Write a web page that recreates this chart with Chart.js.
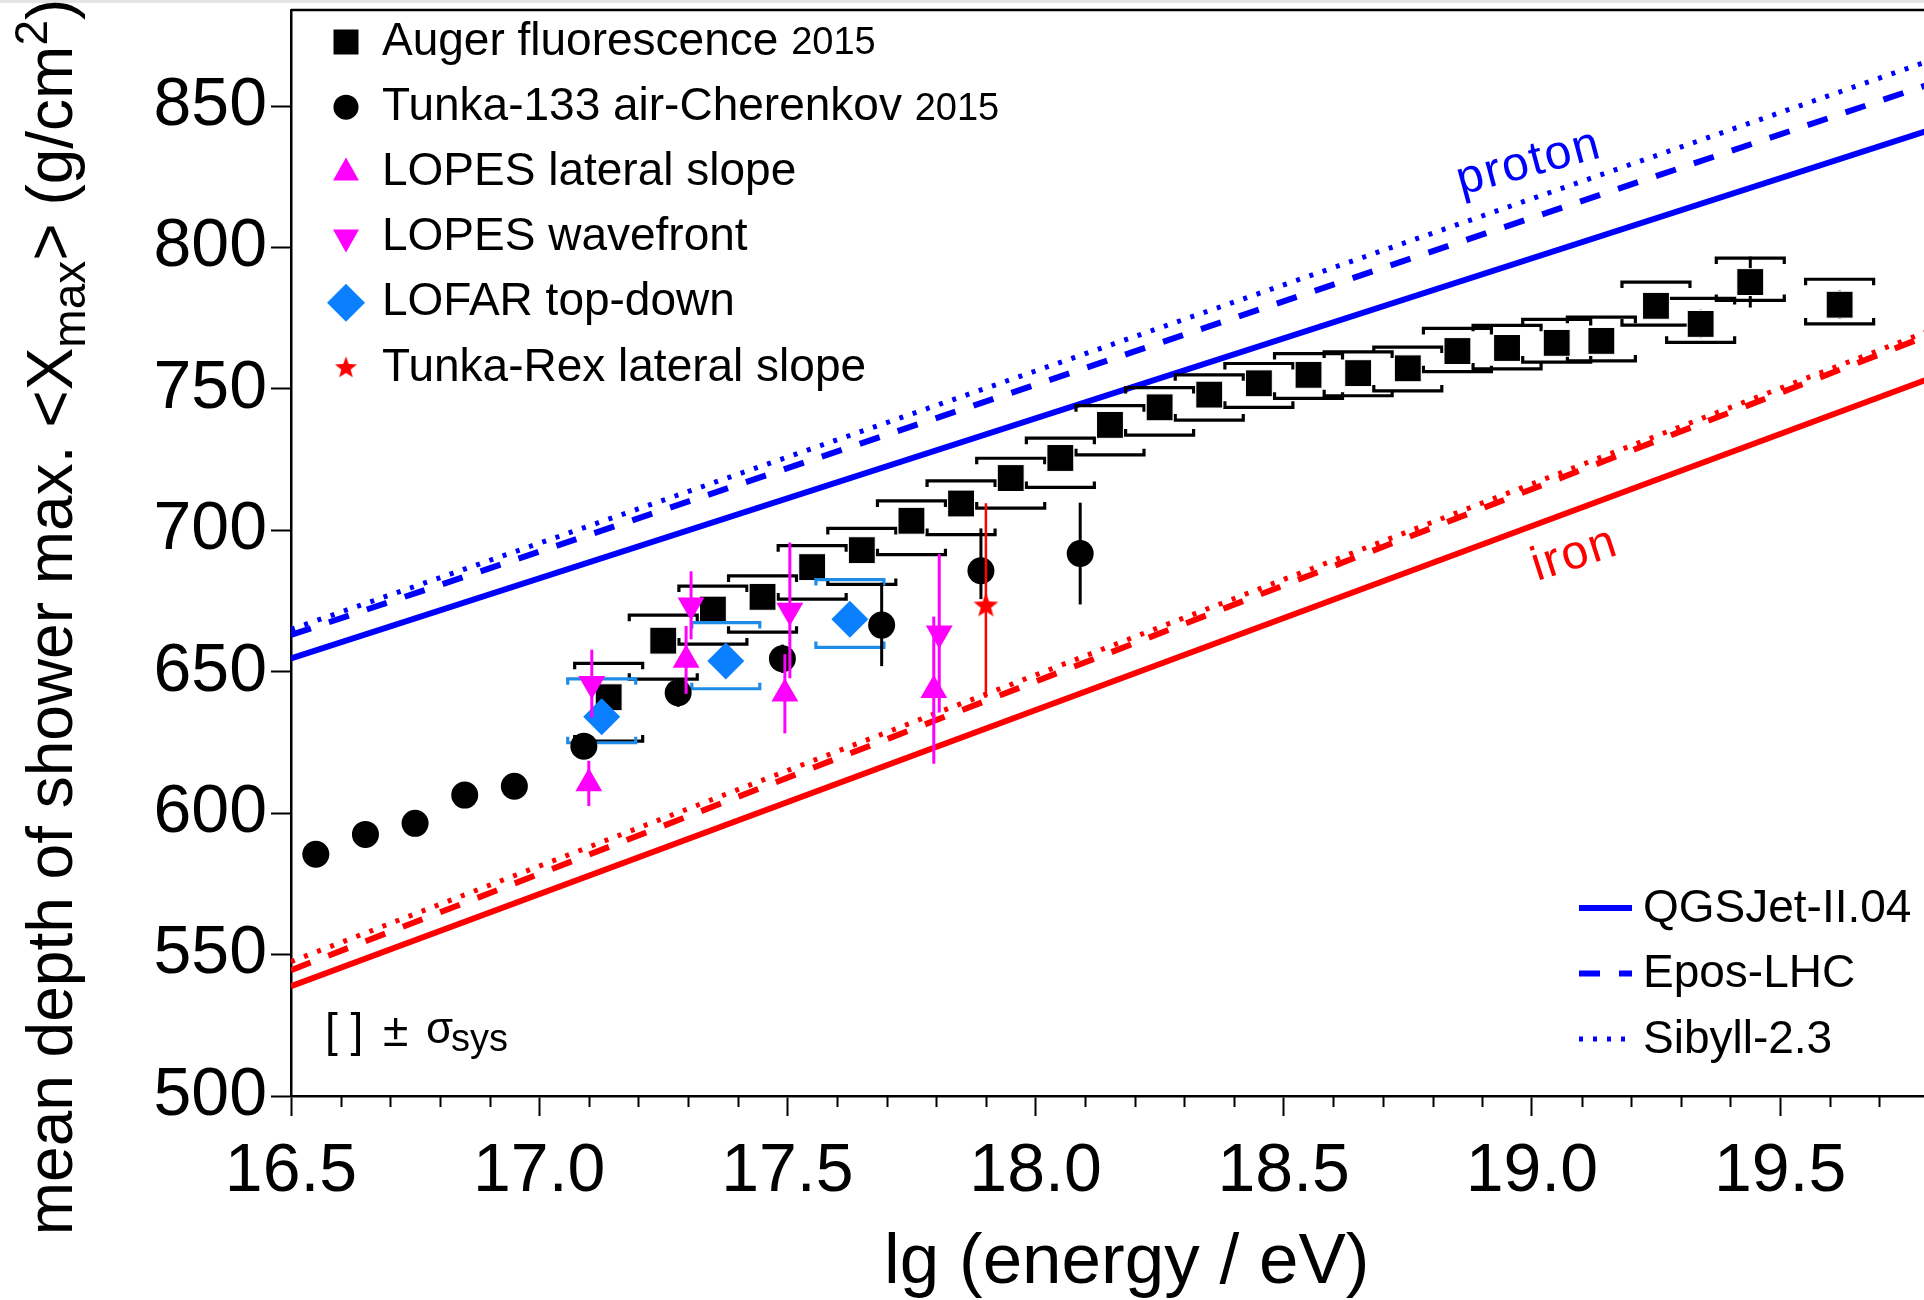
<!DOCTYPE html>
<html>
<head>
<meta charset="utf-8">
<title>Mean depth of shower maximum vs energy</title>
<script src="https://cdn.jsdelivr.net/npm/chart.js@4.4.1/dist/chart.umd.min.js"></script>
<style>
  html, body { margin: 0; padding: 0; background: #fff; }
  #wrap { width: 1924px; height: 1300px; }
</style>
</head>
<body>
<div id="wrap"><canvas id="xmax" width="1924" height="1300"></canvas></div>
<script>
// ---- measurements: lg(E/eV) and <Xmax> in g/cm^2 ----
const augerLg = [17.14, 17.25, 17.35, 17.45, 17.55, 17.65, 17.75, 17.85, 17.95, 18.05, 18.15, 18.25, 18.35,
                 18.45, 18.55, 18.65, 18.75, 18.85, 18.95, 19.05, 19.14, 19.25, 19.34, 19.44, 19.62];
const augerXmax = [641, 661, 672, 676.5, 687, 693, 703.4, 709.5, 718.5, 725.6, 737.3, 743.5, 748,
                   752, 755, 755.6, 757.3, 763.4, 764.5, 766.3, 767, 779.4, 773, 787.8, 779.8];
const augerStat = [3, 3, 2, 2, 2, 2, 2, 2, 2, 2, 2, 2, 2, 2, 2, 2, 3, 3, 3, 3, 4, 4, 5, 9, 5];
const augerSysUp = [12, 9, 8.3, 7.4, 7.6, 7.7, 7, 8, 7, 7, 6.8, 7, 7, 7, 7.5, 7.5, 7.5, 8, 8, 8.3, 8.4, 8.4, 9, 8.5, 9];
const augerSysDown = [15.5, 13.6, 12.2, 12.5, 11.3, 12.1, 12, 11, 10.6, 10.4, 10.6, 9.8, 9, 8.5, 8.3, 8, 8,
                      7.3, 7.4, 6.8, 7.1, 6.8, 6.5, 6.5, 6.8];

const tunkaLg = [16.55, 16.65, 16.75, 16.85, 16.95, 17.09, 17.28, 17.49, 17.69, 17.89, 18.09];
const tunkaXmax = [585.5, 592.5, 596.4, 606.4, 609.5, 623.7, 642.6, 654.6, 666.5, 685.7, 691.8];
const tunkaErrUp = [2, 2, 2, 2, 2, 4, 5, 5, 15, 15, 18];
const tunkaErrDown = [2, 2, 2, 2, 2, 4, 5, 5, 14.5, 10, 18];

const lopesLatLg = [17.10, 17.296, 17.495, 17.795];
const lopesLatXmax = [610.5, 654.2, 642.2, 643.5];
const lopesLatErr = [8, 12, 14, 26];

const lopesWfLg = [17.106, 17.306, 17.505, 17.806];
const lopesWfXmax = [645.8, 673.5, 671.7, 663.6];
const lopesWfErr = [12, 12, 24, 28];

const lofarLg = [17.126, 17.376, 17.626];
const lofarXmax = [634.1, 653.8, 668.6];
const lofarSysUp = [13.4, 13.6, 14];
const lofarSysDown = [9.2, 9.8, 10];

const rexLg = [17.9];
const rexXmax = [673.3];
const rexErrUp = [36.3];
const rexErrDown = [32.5];

// ---- hadronic model predictions (straight lines in lg E) ----
const modelLg = [16.5, 19.8];
const qgsProton = [654.7, 841.5];
const eposProton = [663, 857.7];
const sibyllProton = [665, 866];
const qgsIron = [538.8, 753.6];
const eposIron = [544.5, 769];
const sibyllIron = [547.5, 770.5];

// ---- axis ----
const xMin = 16.5, xMax = 19.79;
const yMin = 500, yMax = 884;

const FONT = '"Liberation Sans", Arial, Helvetica, sans-serif';
const BLUE = '#0000ff', RED = '#ff0000', MAGENTA = '#ff00ff';
const LOFAR_BLUE = '#0a80ff', LOFAR_SYS = '#1e8ce6';
const EPOS_DASH = [21, 19], SIBYLL_DOT = [4, 10];

function pts(xs, ys) { return xs.map((x, i) => ({ x: x, y: ys[i] })); }

function makeStar(size, color) {
  const c = document.createElement('canvas');
  c.width = size; c.height = size;
  const g = c.getContext('2d');
  const R = size / 2 - 0.5, r = R * 0.42;
  g.beginPath();
  for (let i = 0; i < 10; i++) {
    const rad = i % 2 ? r : R;
    const a = -Math.PI / 2 + i * Math.PI / 5;
    g.lineTo(size / 2 + rad * Math.cos(a), size / 2 + rad * Math.sin(a));
  }
  g.closePath();
  g.fillStyle = color;
  g.fill();
  return c;
}
const starImg = makeStar(27, RED);

function modelLine(label, color, vals, dash, width) {
  return {
    label: label, data: pts(modelLg, vals), showLine: true, borderColor: color,
    borderWidth: width, borderDash: dash, pointRadius: 0, fill: false, order: 20
  };
}

// error bars and systematic brackets, drawn just under each dataset's markers
const errorBars = {
  id: 'errorBars',
  beforeDatasetDraw(chart, args) {
    const ds = chart.data.datasets[args.index];
    if (!ds.errUp && !ds.sysUp) return;
    const xs = chart.scales.x, ys = chart.scales.y, a = chart.chartArea;
    const ctx = chart.ctx;
    ctx.save();
    ctx.beginPath();
    ctx.rect(a.left, a.top, a.right - a.left, a.bottom - a.top);
    ctx.clip();
    ds.data.forEach((p, i) => {
      const px = xs.getPixelForValue(p.x);
      if (ds.sysUp) {
        const hw = 34, tick = 6;
        const yu = ys.getPixelForValue(p.y + ds.sysUp[i]);
        const yd = ys.getPixelForValue(p.y - ds.sysDown[i]);
        ctx.strokeStyle = ds.sysColor;
        ctx.lineWidth = 3.2;
        ctx.lineCap = 'butt';
        ctx.lineJoin = 'miter';
        ctx.beginPath();
        ctx.moveTo(px - hw, yu + tick); ctx.lineTo(px - hw, yu); ctx.lineTo(px + hw, yu); ctx.lineTo(px + hw, yu + tick);
        ctx.moveTo(px - hw, yd - tick); ctx.lineTo(px - hw, yd); ctx.lineTo(px + hw, yd); ctx.lineTo(px + hw, yd - tick);
        ctx.stroke();
      }
      if (ds.errUp) {
        ctx.strokeStyle = ds.errColor;
        ctx.lineWidth = ds.errWidth || 3;
        ctx.beginPath();
        ctx.moveTo(px, ys.getPixelForValue(p.y + ds.errUp[i]));
        ctx.lineTo(px, ys.getPixelForValue(p.y - ds.errDown[i]));
        ctx.stroke();
      }
    });
    ctx.restore();
  }
};

function drawMarker(ctx, shape, x, y, color) {
  ctx.fillStyle = color;
  ctx.beginPath();
  if (shape === 'square') {
    ctx.rect(x - 12.5, y - 12.5, 25, 25);
  } else if (shape === 'circle') {
    ctx.arc(x, y, 12.5, 0, Math.PI * 2);
  } else if (shape === 'up') {
    ctx.moveTo(x, y - 15); ctx.lineTo(x + 13, y + 8); ctx.lineTo(x - 13, y + 8);
  } else if (shape === 'down') {
    ctx.moveTo(x, y + 15); ctx.lineTo(x + 13, y - 8); ctx.lineTo(x - 13, y - 8);
  } else if (shape === 'diamond') {
    ctx.moveTo(x, y - 19); ctx.lineTo(x + 19, y); ctx.lineTo(x, y + 19); ctx.lineTo(x - 19, y);
  } else if (shape === 'star') {
    ctx.drawImage(starImg, x - 12, y - 12, 24, 24);
    return;
  }
  ctx.closePath();
  ctx.fill();
}

const dataLegend = [
  { text: 'Auger fluorescence ', year: '2015', shape: 'square', color: '#000' },
  { text: 'Tunka-133 air-Cherenkov ', year: '2015', shape: 'circle', color: '#000' },
  { text: 'LOPES lateral slope', shape: 'up', color: MAGENTA },
  { text: 'LOPES wavefront', shape: 'down', color: MAGENTA },
  { text: 'LOFAR top-down', shape: 'diamond', color: LOFAR_BLUE },
  { text: 'Tunka-Rex lateral slope', shape: 'star', color: RED }
];
const modelLegend = [
  { text: 'QGSJet-II.04', dash: [], width: 6 },
  { text: 'Epos-LHC', dash: EPOS_DASH, width: 6 },
  { text: 'Sibyll-2.3', dash: SIBYLL_DOT, width: 5 }
];

function drawParts(ctx, parts, x, y) {
  let cx = x;
  parts.forEach(p => {
    ctx.font = p.size + 'px ' + FONT;
    ctx.fillText(p.t, cx, y + (p.dy || 0));
    cx += ctx.measureText(p.t).width;
  });
  return cx;
}
function partsWidth(ctx, parts) {
  let w = 0;
  parts.forEach(p => { ctx.font = p.size + 'px ' + FONT; w += ctx.measureText(p.t).width; });
  return w;
}

// frame top line, minor ticks, legends, labels and axis titles
const decorations = {
  id: 'decorations',
  beforeDraw(chart) {
    const ctx = chart.ctx;
    ctx.save();
    ctx.fillStyle = '#e4e4e4';
    ctx.fillRect(0, 0, chart.width, 3);
    ctx.restore();
  },
  afterDraw(chart) {
    const ctx = chart.ctx, a = chart.chartArea, xs = chart.scales.x;
    ctx.save();

    // top frame line
    ctx.strokeStyle = '#000';
    ctx.lineWidth = 2.5;
    ctx.beginPath();
    ctx.moveTo(a.left, a.top); ctx.lineTo(a.right, a.top);
    ctx.stroke();

    // minor ticks every 0.1
    ctx.lineWidth = 2;
    ctx.beginPath();
    for (let k = 1; xMin + k * 0.1 <= xMax + 1e-9; k++) {
      if (k % 5 === 0) continue;
      const px = Math.round(xs.getPixelForValue(xMin + k * 0.1)) + 0.5;
      ctx.moveTo(px, a.bottom); ctx.lineTo(px, a.bottom + 11);
    }
    ctx.stroke();

    // data legend, upper left
    ctx.textBaseline = 'middle';
    ctx.fillStyle = '#000';
    dataLegend.forEach((it, i) => {
      const y = 42 + i * 65.2;
      drawMarker(ctx, it.shape, 346, y, it.color);
      ctx.fillStyle = '#000';
      ctx.font = '46px ' + FONT;
      ctx.fillText(it.text, 382, y);
      if (it.year) {
        const w = ctx.measureText(it.text).width;
        ctx.font = '38px ' + FONT;
        ctx.fillText(it.year, 382 + w, y + 2);
      }
    });

    // model legend, lower right
    modelLegend.forEach((it, i) => {
      const y = 908 + i * 65.5;
      ctx.strokeStyle = BLUE;
      ctx.lineWidth = it.width;
      ctx.setLineDash(it.dash);
      ctx.beginPath();
      ctx.moveTo(1579, y); ctx.lineTo(1632, y);
      ctx.stroke();
      ctx.setLineDash([]);
      ctx.fillStyle = '#000';
      ctx.font = '46px ' + FONT;
      ctx.fillText(it.text, 1643, y + 1);
    });

    // systematic-uncertainty note
    ctx.textBaseline = 'alphabetic';
    ctx.fillStyle = '#000';
    ctx.font = '46px ' + FONT;
    ctx.fillText('[ ]', 325, 1046);
    ctx.fillText('\u00b1', 383, 1046);
    ctx.font = '44px ' + FONT;
    ctx.fillText('\u03c3', 426, 1043);
    ctx.font = '38px ' + FONT;
    ctx.fillText('sys', 451, 1051);

    // composition labels along the model lines
    ctx.font = '48px ' + FONT;
    ctx.letterSpacing = '2px';
    ctx.save();
    ctx.translate(1461, 195);
    ctx.rotate(-15 * Math.PI / 180);
    ctx.fillStyle = BLUE;
    ctx.fillText('proton', 0, 0);
    ctx.restore();
    ctx.save();
    ctx.translate(1537, 581);
    ctx.rotate(-17.8 * Math.PI / 180);
    ctx.fillStyle = RED;
    ctx.fillText('iron', 0, 0);
    ctx.restore();
    ctx.letterSpacing = '0px';

    // x axis title
    ctx.fillStyle = '#000';
    ctx.font = '71px ' + FONT;
    ctx.fillText('lg (energy / eV)', 884, 1283);

    // y axis title with sub/superscripts
    const parts = [
      { t: 'mean depth of shower max. <X', size: 64 },
      { t: 'max', size: 46, dy: 13 },
      { t: '> (g/cm', size: 64 },
      { t: '2', size: 46, dy: -25 },
      { t: ')', size: 64 }
    ];
    const w = partsWidth(ctx, parts);
    ctx.save();
    ctx.translate(72, 617);
    ctx.rotate(-Math.PI / 2);
    drawParts(ctx, parts, -w / 2, 0);
    ctx.restore();

    ctx.restore();
  }
};

const datasets = [
  modelLine('QGSJet-II.04 proton', BLUE, qgsProton, [], 6),
  modelLine('Epos-LHC proton', BLUE, eposProton, EPOS_DASH, 6),
  modelLine('Sibyll-2.3 proton', BLUE, sibyllProton, SIBYLL_DOT, 5),
  modelLine('QGSJet-II.04 iron', RED, qgsIron, [], 6),
  modelLine('Epos-LHC iron', RED, eposIron, EPOS_DASH, 6),
  modelLine('Sibyll-2.3 iron', RED, sibyllIron, SIBYLL_DOT, 5),
  {
    label: 'Auger fluorescence 2015', data: pts(augerLg, augerXmax), order: 6,
    pointStyle: 'rect', pointRadius: 19, backgroundColor: '#000', borderColor: '#fff', borderWidth: 1,
    errUp: augerStat, errDown: augerStat, errColor: '#000',
    sysUp: augerSysUp, sysDown: augerSysDown, sysColor: '#000'
  },
  {
    label: 'LOFAR top-down', data: pts(lofarLg, lofarXmax), order: 5,
    pointStyle: 'rectRot', pointRadius: 18.5, backgroundColor: LOFAR_BLUE, borderWidth: 0,
    sysUp: lofarSysUp, sysDown: lofarSysDown, sysColor: LOFAR_SYS
  },
  {
    label: 'Tunka-133 air-Cherenkov 2015', data: pts(tunkaLg, tunkaXmax), order: 4,
    pointStyle: 'circle', pointRadius: 13.5, backgroundColor: '#000', borderWidth: 0,
    errUp: tunkaErrUp, errDown: tunkaErrDown, errColor: '#000'
  },
  {
    label: 'LOPES lateral slope', data: pts(lopesLatLg, lopesLatXmax), order: 3,
    pointStyle: 'triangle', pointRadius: 15.5, backgroundColor: MAGENTA, borderWidth: 0,
    errUp: lopesLatErr, errDown: lopesLatErr, errColor: MAGENTA
  },
  {
    label: 'LOPES wavefront', data: pts(lopesWfLg, lopesWfXmax), order: 2,
    pointStyle: 'triangle', rotation: 180, pointRadius: 15.5, backgroundColor: MAGENTA, borderWidth: 0,
    errUp: lopesWfErr, errDown: lopesWfErr, errColor: MAGENTA
  },
  {
    label: 'Tunka-Rex lateral slope', data: pts(rexLg, rexXmax), order: 1,
    pointStyle: starImg, pointRadius: 13, backgroundColor: RED, borderWidth: 0,
    errUp: rexErrUp, errDown: rexErrDown, errColor: RED, errWidth: 2.5
  }
];

new Chart(document.getElementById('xmax').getContext('2d'), {
  type: 'scatter',
  data: { datasets: datasets },
  options: {
    responsive: false,
    devicePixelRatio: 1,
    animation: false,
    events: [],
    layout: { autoPadding: false, padding: { top: 10, left: 0, right: 0, bottom: 0 } },
    plugins: { legend: { display: false }, tooltip: { enabled: false } },
    scales: {
      x: {
        type: 'linear', min: xMin, max: xMax,
        afterFit: s => { s.height = 204; s.paddingLeft = 0; s.paddingRight = 0; },
        border: { display: true, color: '#000', width: 2.5 },
        grid: { drawOnChartArea: false, drawTicks: true, tickLength: 20, tickColor: '#000', tickWidth: 2 },
        ticks: {
          stepSize: 0.5, includeBounds: false, autoSkip: false, maxRotation: 0, minRotation: 0,
          padding: 15, color: '#000', font: { family: FONT, size: 68 },
          callback: v => Number(v).toFixed(1)
        }
      },
      y: {
        type: 'linear', min: yMin, max: yMax,
        afterFit: s => { s.width = 291; s.paddingTop = 0; s.paddingBottom = 0; },
        border: { display: true, color: '#000', width: 2.5 },
        grid: { drawOnChartArea: false, drawTicks: true, tickLength: 20, tickColor: '#000', tickWidth: 2 },
        ticks: {
          stepSize: 50, includeBounds: false, padding: 4, color: '#000',
          font: { family: FONT, size: 68 }
        }
      }
    }
  },
  plugins: [errorBars, decorations]
});
</script>
</body>
</html>
